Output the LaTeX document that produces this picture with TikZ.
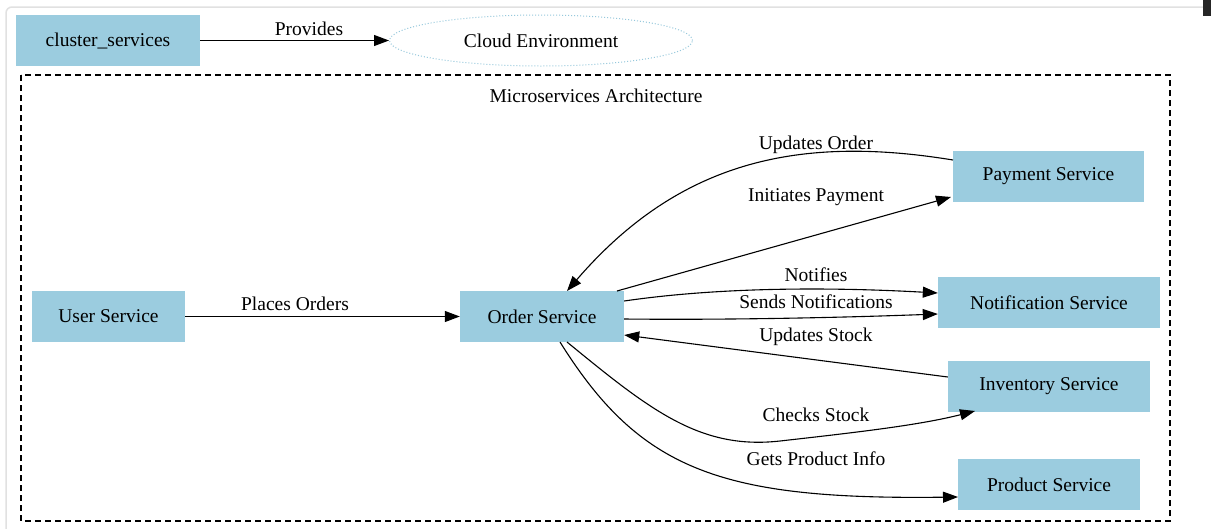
\documentclass[tikz,border=0pt]{standalone}
\usepackage{fontspec}
\setmainfont{Liberation Serif}
\usetikzlibrary{arrows.meta,shapes.geometric}
\definecolor{svcblue}{RGB}{155,204,223}
\definecolor{cloudline}{RGB}{150,200,220}
\definecolor{framegray}{RGB}{225,225,225}
\begin{document}
\begin{tikzpicture}[x=1pt,y=-1pt,
  every node/.style={font=\fontsize{19.5}{22}\selectfont},
  svc/.style={fill=svcblue, draw=none, minimum height=51pt, inner sep=0pt},
  edge/.style={draw=black, line width=1.1pt, -{Triangle[length=15pt,width=11pt]}},
  lbl/.style={inner sep=1pt}
]
\useasboundingbox (0,0) rectangle (1211,528);
\fill[white] (0,0) rectangle (1211,528);
\draw[framegray, line width=1.5pt, rounded corners=6pt] (6,540) -- (6,7) -- (1204,7);
\fill[black!85] (1203,0) rectangle (1211,16);

% top row
\node[svc, minimum width=184pt] (cs) at (108,40.5) {cluster\_services};
\node[ellipse, draw=cloudline, dotted, line width=1pt, minimum width=303pt, minimum height=51pt, inner sep=0pt] (cloud) at (541,40.5) {Cloud Environment};
\draw[edge] (cs) -- (cloud);
\node (prov) at (309,29) {Provides};

% cluster
\draw[dashed, line width=1.2pt, dash pattern=on 6pt off 4pt] (21,75) rectangle (1170,521);
\node (title) at (596,96) {Microservices Architecture};

% services
\node[svc, minimum width=153pt] (user) at (108.5,316.5) {User Service};
\node[svc, minimum width=164pt] (order) at (542,316.5) {Order Service};
\node[svc, minimum width=191pt] (pay) at (1048.5,176.5) {Payment Service};
\node[svc, minimum width=222pt] (notif) at (1049,302.5) {Notification Service};
\node[svc, minimum width=202pt] (inv) at (1049,386.5) {Inventory Service};
\node[svc, minimum width=182pt] (prod) at (1049,484.5) {Product Service};

\coordinate (p1) at (953,160);
\coordinate (o1) at (567,291);
\coordinate (o2) at (617,291);
\coordinate (p2) at (951,197);

% edges
\draw[edge] (user) -- (order);
\node (po) at (295,304) {Places Orders};
\draw[edge] (p1) .. controls (800,135) and (680,160) .. (o1);
\node (uo) at (816,145) {Updates Order};
\draw[edge] (o2) -- (p2);
\node (ip) at (816,197) {Initiates Payment};
\draw[edge] (order.east |- 0,301) .. controls (720,287) and (830,287) .. (notif.west |- 0,293);
\node (nf) at (816,275) {Notifies};
\draw[edge] (order.east |- 0,319) .. controls (720,320) and (830,318) .. (notif.west |- 0,314);
\node (sn) at (816,302) {Sends Notifications};
\draw[edge] (inv.west |- 0,377) -- (order.east |- 0,335);
\node (us) at (816,337) {Updates Stock};
\draw[edge] (567,342) .. controls (650,410) and (700,450) .. (780,441) .. controls (860,432) and (920,425) .. (975,411);
\node (cks) at (816,415) {Checks Stock};
\draw[edge] (560,342) .. controls (640,470) and (720,500) .. (958,497);
\node (gp) at (816,459) {Gets Product Info};
\end{tikzpicture}
\end{document}
